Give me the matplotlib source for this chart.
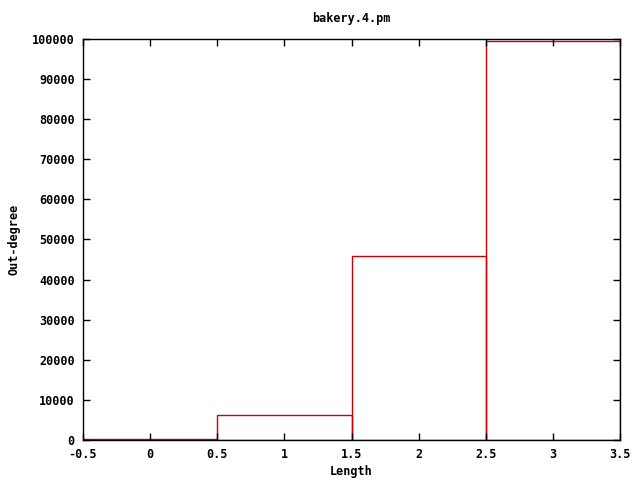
import matplotlib
matplotlib.use("Agg")
from matplotlib import pyplot as plt

lengths = [0, 1, 2, 3]
out_degree = [250, 6300, 45800, 99400]
x_ticks = [-0.5, 0, 0.5, 1, 1.5, 2, 2.5, 3, 3.5]
x_labels = ["-0.5", "0", "0.5", "1", "1.5", "2", "2.5", "3", "3.5"]
y_ticks = list(range(0, 100001, 10000))

plt.rcParams["font.family"] = "DejaVu Sans Mono"
plt.rcParams["font.weight"] = "bold"
plt.rcParams["font.size"] = 8.5

fig = plt.figure(figsize=(6.4, 4.8), dpi=100)
ax = fig.add_axes([83 / 640, 40 / 480, 537 / 640, 401 / 480])

# gnuplot "with boxes" look: outlined boxes of width 1
ax.bar(lengths, out_degree, width=1.0, fill=False, edgecolor="#cc0000", linewidth=1)

ax.set_xlim(-0.5, 3.5)
ax.set_ylim(0, 100000)
ax.set_xticks(x_ticks)
ax.set_xticklabels(x_labels)
ax.set_yticks(y_ticks)
ax.tick_params(direction="in", top=True, right=True, length=5, width=1, pad=6)
for s in ax.spines.values():
    s.set_linewidth(1)

ax.set_title("bakery.4.pm", fontsize=8.5, fontweight="bold", pad=12)
ax.set_xlabel("Length", fontweight="bold", labelpad=3)
ax.set_ylabel("Out-degree", fontweight="bold", labelpad=8)

fig.savefig("out.png", dpi=100)
